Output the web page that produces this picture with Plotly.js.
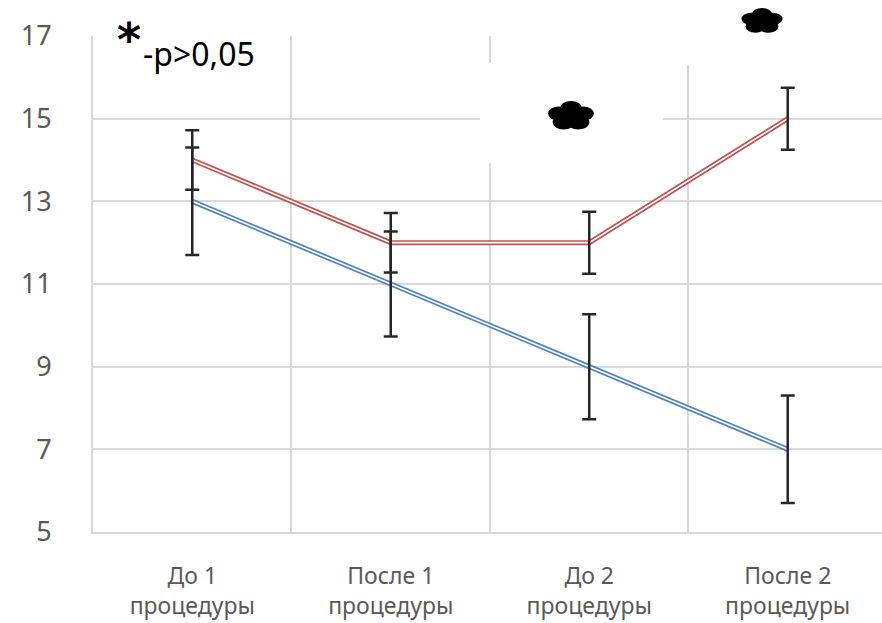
<!DOCTYPE html>
<html>
<head>
<meta charset="utf-8">
<script src="https://cdn.plot.ly/plotly-3.0.1.min.js"></script>
<style>html,body{margin:0;padding:0;overflow:hidden;background:#fff;}</style>
</head>
<body>
<div id="chart" style="width:882px;height:623px;"></div>
<script>
const categories = ["До 1<br>процедуры", "После 1<br>процедуры", "До 2<br>процедуры", "После 2<br>процедуры"];
const blueValues = [13, 11, 9, 7];
const blueErr = [1.3, 1.27, 1.27, 1.3];
const redValues = [14, 12, 12, 15];
const redErr = [0.72, 0.72, 0.75, 0.75];
const yTicks = [5, 7, 9, 11, 13, 15, 17];

const BLUE = '#4F81BD', RED = '#C0504D', ERR = '#262626';
const L = 93, R = 0, T = 36, B = 91, W = 882, H = 623;
const PW = W - L - R, PH = H - T - B;
const px = x => (x - L) / PW;
const py = y => (H - B - y) / PH;

function dbl(y, color) {
  return [
    {x: categories, y: y, type: 'scatter', mode: 'lines', line: {color: color, width: 5}, hoverinfo: 'skip', showlegend: false},
    {x: categories, y: y, type: 'scatter', mode: 'lines', line: {color: '#ffffff', width: 1.6}, hoverinfo: 'skip', showlegend: false}
  ];
}
function errs(y, e) {
  return {x: categories, y: y, type: 'scatter', mode: 'markers', marker: {size: 0.1, color: 'rgba(0,0,0,0)'},
    error_y: {type: 'data', array: e, visible: true, color: ERR, thickness: 2.5, width: 7}, showlegend: false, hoverinfo: 'skip'};
}

const data = [...dbl(blueValues, BLUE), ...dbl(redValues, RED), errs(blueValues, blueErr), errs(redValues, redErr)];

// decorative significance mark: five-lobed black blob
function blob(cx, cy, w, h) {
  const out = [];
  const ell = (x, y, rx, ry) => ({type: 'circle', xref: 'paper', yref: 'paper',
    x0: px(x - rx), x1: px(x + rx), y0: py(y + ry), y1: py(y - ry),
    fillcolor: '#000', line: {width: 0}, layer: 'above'});
  out.push(ell(cx, cy, 0.32 * w, 0.34 * h));
  for (let k = 0; k < 5; k++) {
    const a = (90 + 72 * k) * Math.PI / 180;
    out.push(ell(cx + 0.26 * w * Math.cos(a), cy - 0.26 * h * Math.sin(a), 0.23 * w, 0.24 * h));
  }
  return out;
}

const layout = {
  width: W, height: H,
  margin: {l: L, r: R, t: T, b: B, pad: 0},
  paper_bgcolor: '#fff', plot_bgcolor: '#fff',
  showlegend: false,
  font: {family: 'Noto Sans, sans-serif', color: '#595959'},
  xaxis: {
    type: 'category', range: [-0.5, 3.475], tickson: 'boundaries',
    showgrid: true, gridcolor: '#d9d9d9', gridwidth: 2,
    showline: true, linecolor: '#d9d9d9', linewidth: 2,
    ticks: '', ticklabelstandoff: 22, tickfont: {size: 23, color: '#595959'},
    zeroline: false, fixedrange: true
  },
  yaxis: {
    range: [5, 17], tickvals: yTicks, ticktext: yTicks.map(String),
    showgrid: true, gridcolor: '#d9d9d9', gridwidth: 2,
    showline: true, linecolor: '#d9d9d9', linewidth: 2,
    ticks: '', ticklabelstandoff: 34, tickfont: {size: 27, color: '#595959'},
    zeroline: false, fixedrange: true
  },
  shapes: [
    {type: 'rect', xref: 'paper', yref: 'paper', x0: px(480), x1: px(663), y0: py(163), y1: py(63), fillcolor: '#fff', line: {width: 0}, layer: 'above'},
    {type: 'rect', xref: 'paper', yref: 'paper', x0: px(680), x1: px(843), y0: py(65), y1: py(0), fillcolor: '#fff', line: {width: 0}, layer: 'above'},
    ...blob(571, 116, 48, 30),
    ...blob(762, 21, 43, 26)
  ],
  annotations: [
    {xref: 'paper', yref: 'paper', x: px(129), y: py(40), text: '<b>*</b>', showarrow: false, font: {size: 46, color: '#000', family: 'DejaVu Sans'}, xanchor: 'center', yanchor: 'middle'},
    {xref: 'paper', yref: 'paper', x: px(141), y: py(54), text: '-p>0,05', showarrow: false, font: {size: 32, color: '#000', family: 'Noto Sans'}, xanchor: 'left', yanchor: 'middle'}
  ]
};

Plotly.newPlot('chart', data, layout, {displayModeBar: false, staticPlot: true});
</script>
</body>
</html>
